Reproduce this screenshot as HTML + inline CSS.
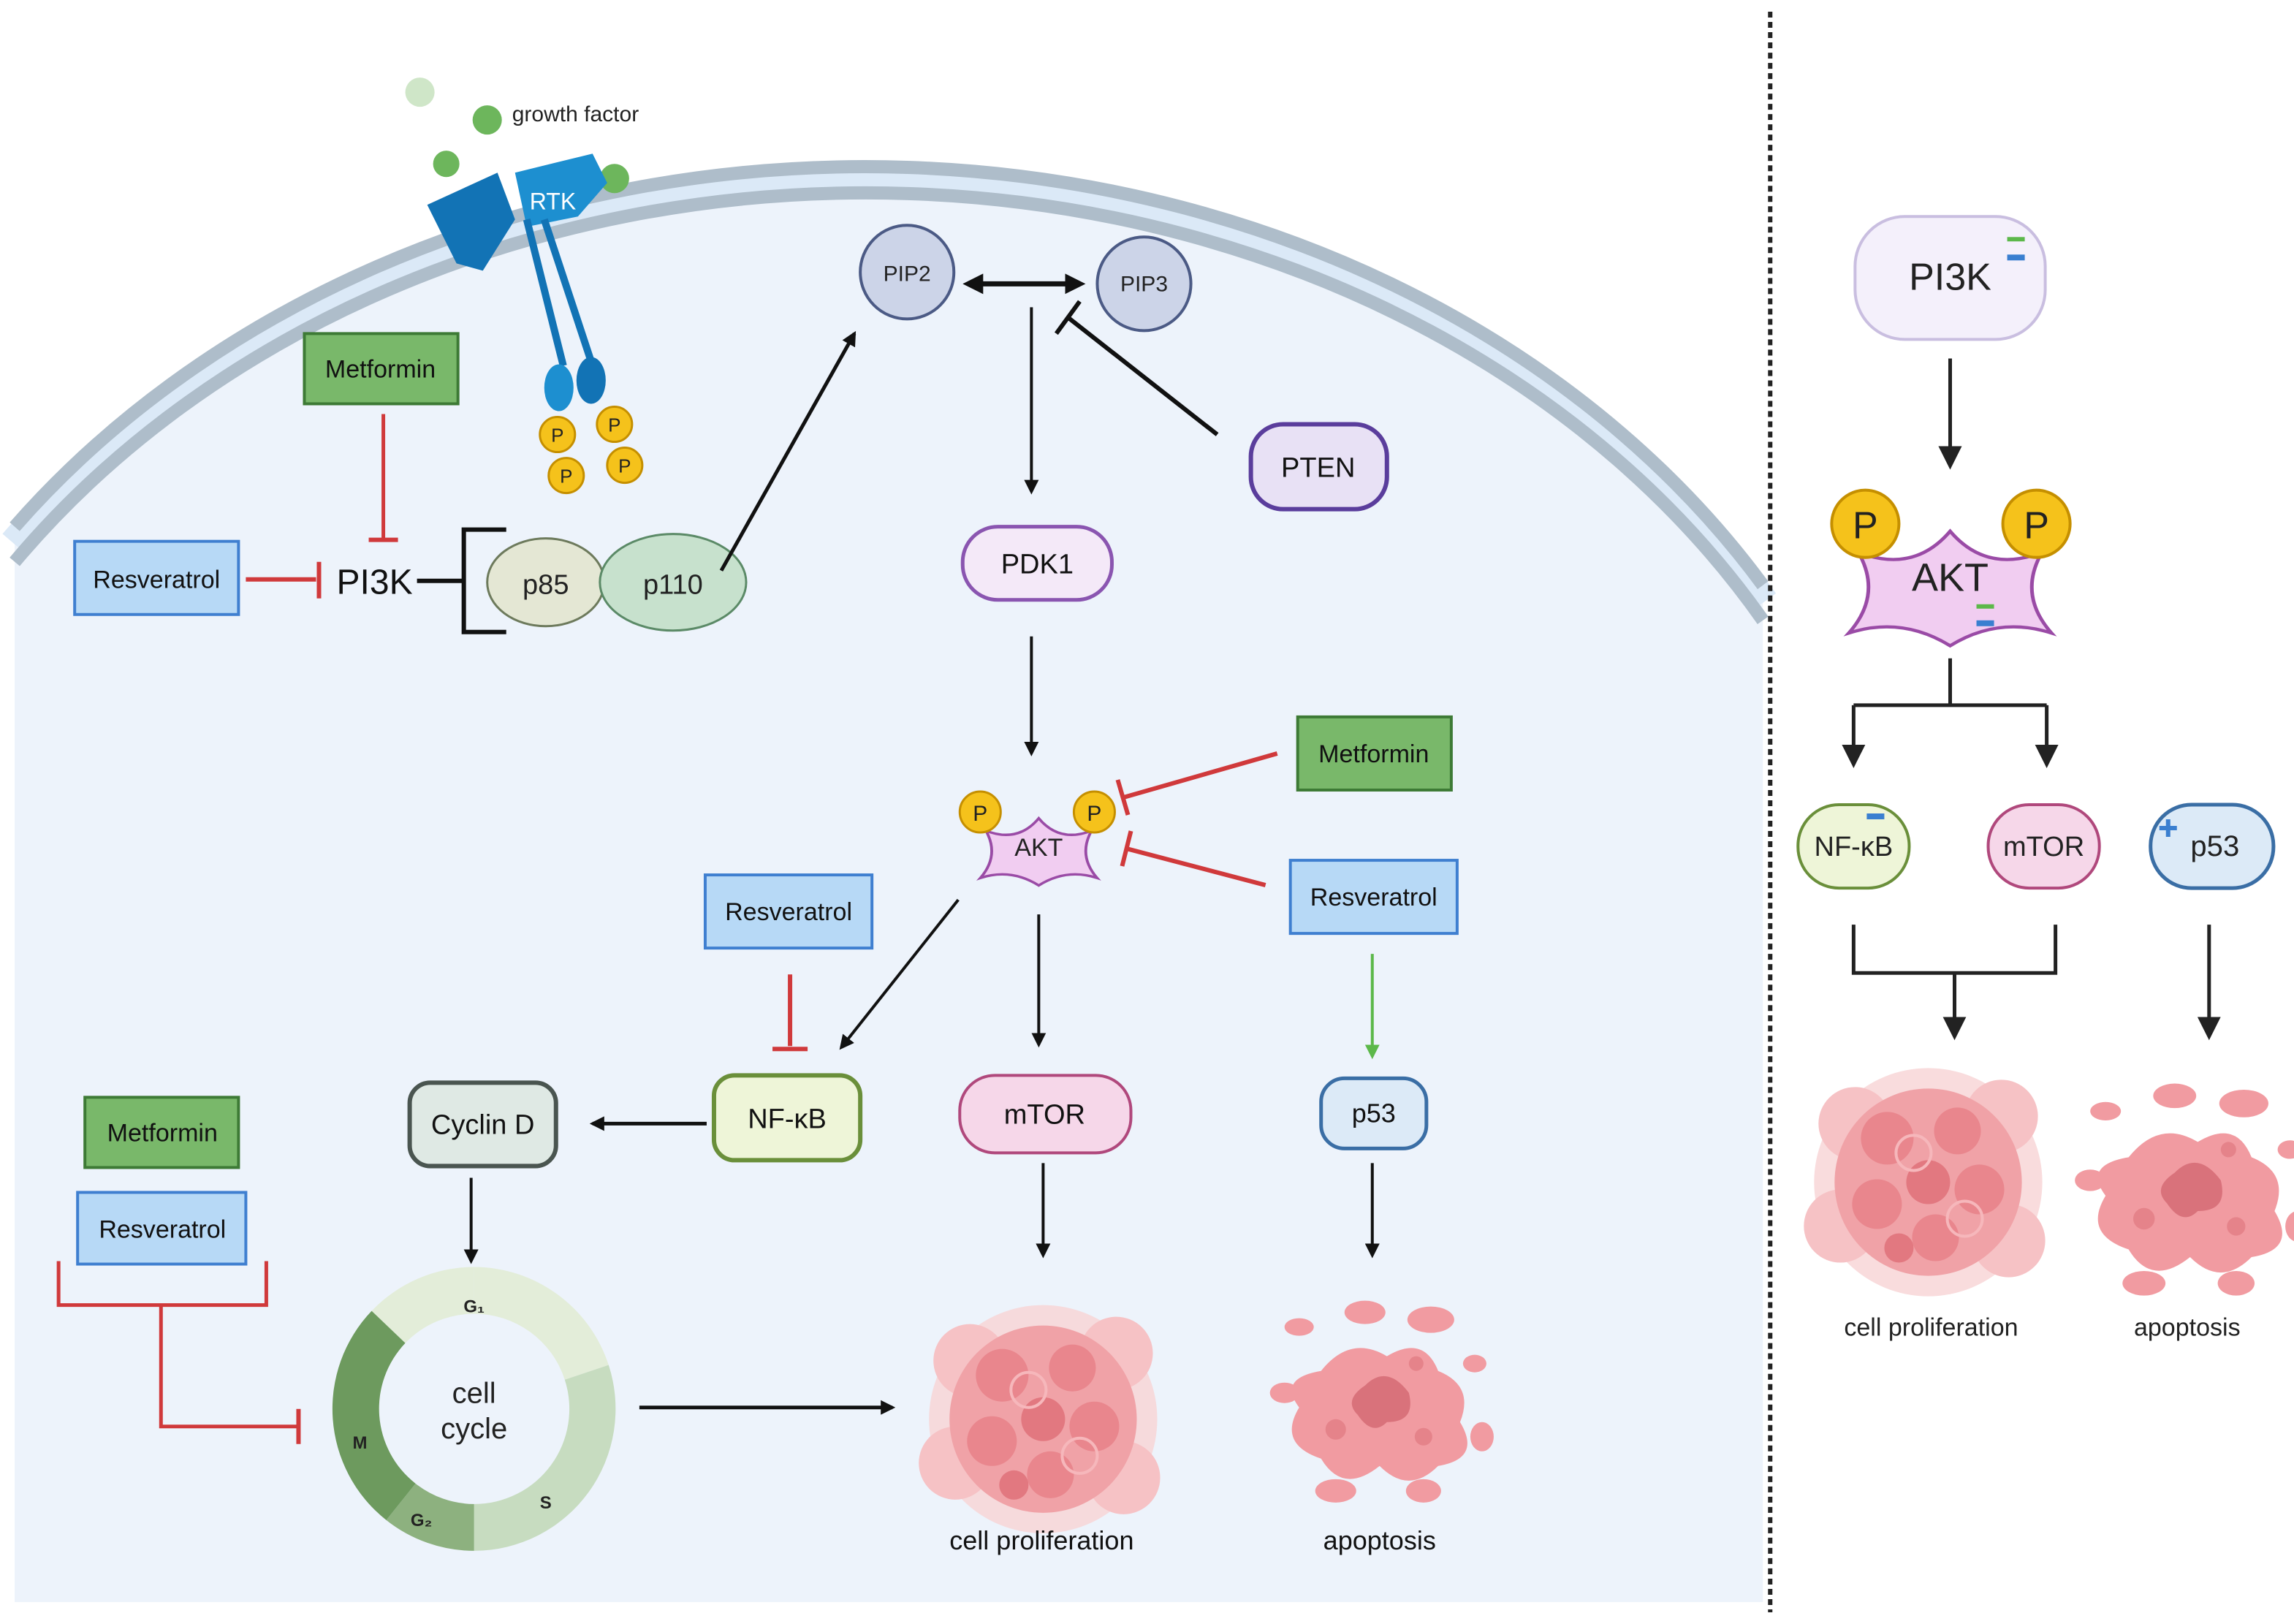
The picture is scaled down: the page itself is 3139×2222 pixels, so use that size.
<!DOCTYPE html>
<html><head><meta charset="utf-8"><style>
html,body{margin:0;padding:0;background:#fff;}
svg{display:block;}
text{font-family:"Liberation Sans",Arial,sans-serif;}
</style></head><body>
<svg width="3139" height="2222" viewBox="0 0 1568 1110" xmlns="http://www.w3.org/2000/svg">
<defs>
<marker id="ah" markerWidth="10" markerHeight="10" refX="8" refY="5" orient="auto" markerUnits="userSpaceOnUse"><path d="M0,0 L10,5 L0,10 Z" fill="#111"/></marker>
<marker id="ahb" markerWidth="16" markerHeight="16" refX="13" refY="8" orient="auto" markerUnits="userSpaceOnUse"><path d="M0,0 L16,8 L0,16 Z" fill="#222"/></marker>
<marker id="ahs" markerWidth="14" markerHeight="14" refX="10" refY="7" orient="auto-start-reverse" markerUnits="userSpaceOnUse"><path d="M0,0 L14,7 L0,14 Z" fill="#111"/></marker>
<marker id="ahg" markerWidth="10" markerHeight="10" refX="8" refY="5" orient="auto" markerUnits="userSpaceOnUse"><path d="M0,0 L10,5 L0,10 Z" fill="#5cb84a"/></marker>
<g id="prolif">
<circle r="78" fill="#f8d3d5" opacity="0.8"/>
<circle cx="-50" cy="-40" r="25" fill="#f6c2c5"/><circle cx="50" cy="-45" r="25" fill="#f6c2c5"/><circle cx="-60" cy="30" r="25" fill="#f6c2c5"/><circle cx="55" cy="40" r="25" fill="#f6c2c5"/>
<circle r="64" fill="#f0a2a7"/>
<circle cx="-28" cy="-30" r="18" fill="#e9868d"/><circle cx="20" cy="-35" r="16" fill="#e9868d"/><circle cx="35" cy="5" r="17" fill="#e9868d"/><circle cx="-35" cy="15" r="17" fill="#e9868d"/><circle cx="0" cy="0" r="15" fill="#e27880"/><circle cx="5" cy="38" r="16" fill="#e9868d"/><circle cx="-20" cy="45" r="10" fill="#e27880"/>
<circle cx="-10" cy="-20" r="12" fill="none" stroke="#f6b7bb" stroke-width="2"/><circle cx="25" cy="25" r="12" fill="none" stroke="#f6b7bb" stroke-width="2"/>
</g>
<g id="apop">
<path d="M-40,-20 Q-20,-45 5,-30 Q30,-45 40,-20 Q65,-10 55,15 Q70,40 40,45 Q20,65 0,45 Q-25,65 -40,40 Q-70,30 -55,5 Q-70,-15 -40,-20 Z" fill="#f19ba1"/>
<path d="M-10,-10 Q5,-25 20,-5 Q25,15 5,15 Q-5,25 -15,10 Q-25,0 -10,-10 Z" fill="#d9727b"/>
<ellipse cx="-55" cy="-50" rx="10" ry="6" fill="#f19ba1"/><ellipse cx="-10" cy="-60" rx="14" ry="8" fill="#f19ba1"/><ellipse cx="35" cy="-55" rx="16" ry="9" fill="#f19ba1"/><ellipse cx="65" cy="-25" rx="8" ry="6" fill="#f19ba1"/>
<ellipse cx="-65" cy="-5" rx="10" ry="7" fill="#f19ba1"/><ellipse cx="70" cy="25" rx="8" ry="10" fill="#f19ba1"/><ellipse cx="-30" cy="62" rx="14" ry="8" fill="#f19ba1"/><ellipse cx="30" cy="62" rx="12" ry="8" fill="#f19ba1"/>
<circle cx="-30" cy="20" r="7" fill="#e5838a"/><circle cx="30" cy="25" r="6" fill="#e5838a"/><circle cx="25" cy="-25" r="5" fill="#e5838a"/>
</g>
</defs>

<!-- cell -->
<path d="M10,360 A720,600 0 0 1 1205,400 L1205,1095 L10,1095 Z" fill="#edf3fb"/>
<path d="M10,372 A715,595 0 0 1 1205,412" fill="none" stroke="#dbe9f7" stroke-width="22"/>
<path d="M10,360 A720,600 0 0 1 1205,400" fill="none" stroke="#aebdca" stroke-width="9"/>
<path d="M10,384 A710,590 0 0 1 1205,424" fill="none" stroke="#aebdca" stroke-width="9"/>

<!-- divider -->
<line x1="1210" y1="8" x2="1210" y2="1102" stroke="#222" stroke-width="3" stroke-dasharray="4,3"/>

<!-- growth factor & RTK -->
<circle cx="287" cy="63" r="10" fill="#cfe6c8"/>
<circle cx="333" cy="82" r="10" fill="#6db65c"/>
<circle cx="305" cy="112" r="9" fill="#6db65c"/>
<circle cx="420" cy="122" r="10" fill="#6db65c"/>
<text x="350" y="83" font-size="15" fill="#222">growth factor</text>
<path d="M292,140 L340,118 L352,150 L330,185 L312,180 Z" fill="#1273b5"/>
<path d="M352,118 L405,105 L415,125 L395,148 L360,155 Z" fill="#1d8fd0"/>
<text x="362" y="143" font-size="16" fill="#fff">RTK</text>
<path d="M360,150 L385,250 M372,150 L405,250" stroke="#1273b5" stroke-width="5" fill="none"/>
<ellipse cx="382" cy="265" rx="10" ry="16" fill="#1d8fd0"/>
<ellipse cx="404" cy="260" rx="10" ry="16" fill="#1273b5"/>
<g fill="#f5c21b" stroke="#c58f00" stroke-width="1.5">
<circle cx="381" cy="297" r="12"/><circle cx="420" cy="290" r="12"/><circle cx="387" cy="325" r="12"/><circle cx="427" cy="318" r="12"/>
</g>
<g font-size="13" text-anchor="middle" fill="#222"><text x="381" y="302">P</text><text x="420" y="295">P</text><text x="387" y="330">P</text><text x="427" y="323">P</text></g>

<!-- Metformin top -->
<rect x="208" y="228" width="105" height="48" fill="#79b86a" stroke="#3d7a35" stroke-width="2"/>
<text x="260" y="258" font-size="17" text-anchor="middle" fill="#111">Metformin</text>
<line x1="262" y1="283" x2="262" y2="368" stroke="#d0393b" stroke-width="2.5"/>
<line x1="252" y1="369" x2="272" y2="369" stroke="#d0393b" stroke-width="3"/>
<rect x="51" y="370" width="112" height="50" fill="#b7d9f6" stroke="#3f7fd0" stroke-width="2"/>
<text x="107" y="402" font-size="17" text-anchor="middle" fill="#111">Resveratrol</text>
<line x1="168" y1="396" x2="216" y2="396" stroke="#d0393b" stroke-width="3"/>
<line x1="218" y1="384" x2="218" y2="409" stroke="#d0393b" stroke-width="3"/>
<text x="230" y="406" font-size="24" fill="#111">PI3K</text>
<line x1="285" y1="397" x2="317" y2="397" stroke="#111" stroke-width="3"/>
<path d="M346,362 L317,362 L317,432 L346,432" fill="none" stroke="#111" stroke-width="3"/>
<ellipse cx="373" cy="398" rx="40" ry="30" fill="#e4e7d4" stroke="#6d7a5c" stroke-width="1.5"/>
<ellipse cx="460" cy="398" rx="50" ry="33" fill="#c7e1cd" stroke="#5b8a67" stroke-width="1.5"/>
<text x="373" y="406" font-size="19" text-anchor="middle" fill="#222">p85</text>
<text x="460" y="406" font-size="19" text-anchor="middle" fill="#222">p110</text>
<line x1="493" y1="390" x2="584" y2="228" stroke="#111" stroke-width="2.5" marker-end="url(#ah)"/>

<!-- PIP -->
<circle cx="620" cy="186" r="32" fill="#ccd4e8" stroke="#4b5a85" stroke-width="2"/>
<circle cx="782" cy="194" r="32" fill="#ccd4e8" stroke="#4b5a85" stroke-width="2"/>
<text x="620" y="192" font-size="15" text-anchor="middle" fill="#222">PIP2</text>
<text x="782" y="199" font-size="15" text-anchor="middle" fill="#222">PIP3</text>
<line x1="662" y1="194" x2="738" y2="194" stroke="#111" stroke-width="3.5" marker-start="url(#ahs)" marker-end="url(#ahs)"/>
<line x1="705" y1="210" x2="705" y2="336" stroke="#111" stroke-width="2" marker-end="url(#ah)"/>
<line x1="832" y1="297" x2="730" y2="217" stroke="#111" stroke-width="3"/>
<line x1="722" y1="228" x2="738" y2="206" stroke="#111" stroke-width="3"/>
<rect x="855" y="290" width="93" height="58" rx="22" fill="#e8e1f5" stroke="#5a3d9c" stroke-width="3"/>
<text x="901" y="326" font-size="19" text-anchor="middle" fill="#111">PTEN</text>
<rect x="658" y="360" width="102" height="50" rx="24" fill="#f4e9f8" stroke="#8a55b0" stroke-width="2.5"/>
<text x="709" y="392" font-size="19" text-anchor="middle" fill="#111">PDK1</text>
<line x1="705" y1="435" x2="705" y2="515" stroke="#111" stroke-width="2" marker-end="url(#ah)"/>

<!-- AKT small -->
<g transform="translate(710,578)">
<path d="M-38,-12 Q-15,-2 0,-22 Q15,-2 38,-12 Q28,8 42,26 Q20,18 0,32 Q-20,18 -42,26 Q-28,8 -38,-12 Z" transform="scale(0.95,0.85)" fill="#f1cdf1" stroke="#9a4ba6" stroke-width="2"/>
<text x="0" y="7" font-size="17" text-anchor="middle" fill="#222">AKT</text>
</g>
<circle cx="670" cy="555" r="14" fill="#f5c21b" stroke="#c58f00" stroke-width="1.5"/>
<circle cx="748" cy="555" r="14" fill="#f5c21b" stroke="#c58f00" stroke-width="1.5"/>
<text x="670" y="561" font-size="15" text-anchor="middle" fill="#222">P</text>
<text x="748" y="561" font-size="15" text-anchor="middle" fill="#222">P</text>

<rect x="887" y="490" width="105" height="50" fill="#79b86a" stroke="#3d7a35" stroke-width="2"/>
<text x="939" y="521" font-size="17" text-anchor="middle" fill="#111">Metformin</text>
<line x1="873" y1="515" x2="768" y2="545" stroke="#d0393b" stroke-width="3"/>
<line x1="764" y1="533" x2="771" y2="557" stroke="#d0393b" stroke-width="3"/>
<rect x="882" y="588" width="114" height="50" fill="#b7d9f6" stroke="#3f7fd0" stroke-width="2"/>
<text x="939" y="619" font-size="17" text-anchor="middle" fill="#111">Resveratrol</text>
<line x1="865" y1="605" x2="770" y2="580" stroke="#d0393b" stroke-width="3"/>
<line x1="773" y1="568" x2="767" y2="592" stroke="#d0393b" stroke-width="3"/>
<line x1="938" y1="652" x2="938" y2="722" stroke="#5cb84a" stroke-width="2" marker-end="url(#ahg)"/>
<rect x="903" y="737" width="72" height="48" rx="16" fill="#dceaf7" stroke="#3a6ea5" stroke-width="2.5"/>
<text x="939" y="767" font-size="18" text-anchor="middle" fill="#111">p53</text>

<line x1="655" y1="615" x2="575" y2="716" stroke="#111" stroke-width="2" marker-end="url(#ah)"/>
<line x1="710" y1="625" x2="710" y2="714" stroke="#111" stroke-width="2" marker-end="url(#ah)"/>
<rect x="482" y="598" width="114" height="50" fill="#b7d9f6" stroke="#3f7fd0" stroke-width="2"/>
<text x="539" y="629" font-size="17" text-anchor="middle" fill="#111">Resveratrol</text>
<line x1="540" y1="666" x2="540" y2="715" stroke="#d0393b" stroke-width="3"/>
<line x1="528" y1="717" x2="552" y2="717" stroke="#d0393b" stroke-width="3"/>
<rect x="488" y="735" width="100" height="58" rx="14" fill="#eef5d8" stroke="#6a8f3a" stroke-width="3"/>
<text x="538" y="771" font-size="19" text-anchor="middle" fill="#111">NF-κB</text>
<rect x="656" y="735" width="117" height="53" rx="24" fill="#f6d7e9" stroke="#b0487c" stroke-width="2"/>
<text x="714" y="768" font-size="19" text-anchor="middle" fill="#111">mTOR</text>
<line x1="483" y1="768" x2="405" y2="768" stroke="#111" stroke-width="2.5" marker-end="url(#ah)"/>
<rect x="280" y="740" width="100" height="57" rx="14" fill="#dfe9e4" stroke="#4a5550" stroke-width="3"/>
<text x="330" y="775" font-size="19" text-anchor="middle" fill="#111">Cyclin D</text>
<line x1="322" y1="805" x2="322" y2="862" stroke="#111" stroke-width="2" marker-end="url(#ah)"/>

<rect x="58" y="750" width="105" height="48" fill="#79b86a" stroke="#3d7a35" stroke-width="2"/>
<text x="111" y="780" font-size="17" text-anchor="middle" fill="#111">Metformin</text>
<rect x="53" y="815" width="115" height="49" fill="#b7d9f6" stroke="#3f7fd0" stroke-width="2"/>
<text x="111" y="846" font-size="17" text-anchor="middle" fill="#111">Resveratrol</text>
<path d="M40,862 L40,892 L182,892 L182,862 M110,892 L110,975 L203,975" fill="none" stroke="#d0393b" stroke-width="2.5"/>
<line x1="204" y1="963" x2="204" y2="987" stroke="#d0393b" stroke-width="3"/>

<!-- cell cycle ring -->
<g transform="translate(324,963)">
<path d="M0,-97 A97,97 0 0 1 92,-30 L62,-20 A65,65 0 0 0 0,-65 Z" fill="#e3edd9"/>
<path d="M-70,-67 A97,97 0 0 1 0,-97 L0,-65 A65,65 0 0 0 -47,-45 Z" fill="#e3edd9"/>
<path d="M92,-30 A97,97 0 0 1 0,97 L0,65 A65,65 0 0 0 62,-20 Z" fill="#c7dcc0"/>
<path d="M0,97 A97,97 0 0 1 -60,76 L-40,51 A65,65 0 0 0 0,65 Z" fill="#8db17f"/>
<path d="M-60,76 A97,97 0 0 1 -70,-67 L-47,-45 A65,65 0 0 0 -40,51 Z" fill="#6d9a5e"/>
<text x="0" y="-4" font-size="20" text-anchor="middle" fill="#222">cell</text>
<text x="0" y="20" font-size="20" text-anchor="middle" fill="#222">cycle</text>
<text x="0" y="-66" font-size="12" font-weight="bold" text-anchor="middle" fill="#222">G₁</text>
<text x="49" y="68" font-size="12" font-weight="bold" text-anchor="middle" fill="#222">S</text>
<text x="-36" y="80" font-size="12" font-weight="bold" text-anchor="middle" fill="#222">G₂</text>
<text x="-78" y="27" font-size="12" font-weight="bold" text-anchor="middle" fill="#222">M</text>
</g>
<line x1="437" y1="962" x2="610" y2="962" stroke="#111" stroke-width="2.5" marker-end="url(#ah)"/>
<line x1="713" y1="795" x2="713" y2="858" stroke="#111" stroke-width="2" marker-end="url(#ah)"/>
<line x1="938" y1="795" x2="938" y2="858" stroke="#111" stroke-width="2" marker-end="url(#ah)"/>
<use href="#prolif" transform="translate(713,970)"/>
<use href="#apop" transform="translate(943,957)"/>
<text x="712" y="1059" font-size="18" text-anchor="middle" fill="#111">cell proliferation</text>
<text x="943" y="1059" font-size="18" text-anchor="middle" fill="#111">apoptosis</text>

<!-- right panel -->
<rect x="1268" y="148" width="130" height="84" rx="34" fill="#f4f0fb" stroke="#c9bee0" stroke-width="2"/>
<text x="1333" y="198" font-size="26" text-anchor="middle" fill="#222">PI3K</text>
<rect x="1372" y="162" width="12" height="3" fill="#5cb84a"/><rect x="1372" y="174" width="12" height="4" fill="#3a7fd0"/>
<line x1="1333" y1="245" x2="1333" y2="318" stroke="#222" stroke-width="2.5" marker-end="url(#ahb)"/>
<g transform="translate(1333,395)">
<path d="M-38,-12 Q-15,-2 0,-22 Q15,-2 38,-12 Q28,8 42,26 Q20,18 0,32 Q-20,18 -42,26 Q-28,8 -38,-12 Z" transform="scale(1.65,1.45)" fill="#f1cdf1" stroke="#9a4ba6" stroke-width="1.5"/>
<text x="0" y="9" font-size="27" text-anchor="middle" fill="#222">AKT</text>
</g>
<rect x="1351" y="413" width="12" height="3" fill="#5cb84a"/><rect x="1351" y="424" width="12" height="4" fill="#3a7fd0"/>
<circle cx="1275" cy="358" r="23" fill="#f5c21b" stroke="#c58f00" stroke-width="2"/>
<circle cx="1392" cy="358" r="23" fill="#f5c21b" stroke="#c58f00" stroke-width="2"/>
<text x="1275" y="368" font-size="26" text-anchor="middle" fill="#222">P</text>
<text x="1392" y="368" font-size="26" text-anchor="middle" fill="#222">P</text>
<path d="M1333,450 L1333,482 M1267,482 L1399,482" stroke="#222" stroke-width="2.5" fill="none"/>
<line x1="1267" y1="482" x2="1267" y2="522" stroke="#222" stroke-width="2.5" marker-end="url(#ahb)"/>
<line x1="1399" y1="482" x2="1399" y2="522" stroke="#222" stroke-width="2.5" marker-end="url(#ahb)"/>
<rect x="1229" y="550" width="76" height="57" rx="28" fill="#eef5d8" stroke="#6a8f3a" stroke-width="2"/>
<text x="1267" y="585" font-size="19" text-anchor="middle" fill="#222">NF-κB</text>
<rect x="1276" y="556" width="12" height="4" fill="#3a7fd0"/>
<rect x="1359" y="550" width="76" height="57" rx="28" fill="#f6d7e9" stroke="#b0487c" stroke-width="2"/>
<text x="1397" y="585" font-size="19" text-anchor="middle" fill="#222">mTOR</text>
<rect x="1470" y="550" width="84" height="57" rx="28" fill="#dceaf7" stroke="#3a6ea5" stroke-width="2.5"/>
<text x="1514" y="585" font-size="20" text-anchor="middle" fill="#222">p53</text>
<path d="M1476,566 h12 M1482,560 v12" stroke="#3a7fd0" stroke-width="3"/>
<path d="M1267,632 L1267,665 L1405,665 L1405,632" stroke="#222" stroke-width="2.5" fill="none"/>
<line x1="1336" y1="665" x2="1336" y2="708" stroke="#222" stroke-width="2.5" marker-end="url(#ahb)"/>
<line x1="1510" y1="632" x2="1510" y2="708" stroke="#222" stroke-width="2.5" marker-end="url(#ahb)"/>
<use href="#prolif" transform="translate(1318,808)"/>
<use href="#apop" transform="translate(1497,812) scale(1.05)"/>
<text x="1320" y="913" font-size="17" text-anchor="middle" fill="#222">cell proliferation</text>
<text x="1495" y="913" font-size="17" text-anchor="middle" fill="#222">apoptosis</text>
</svg>
</body></html>
